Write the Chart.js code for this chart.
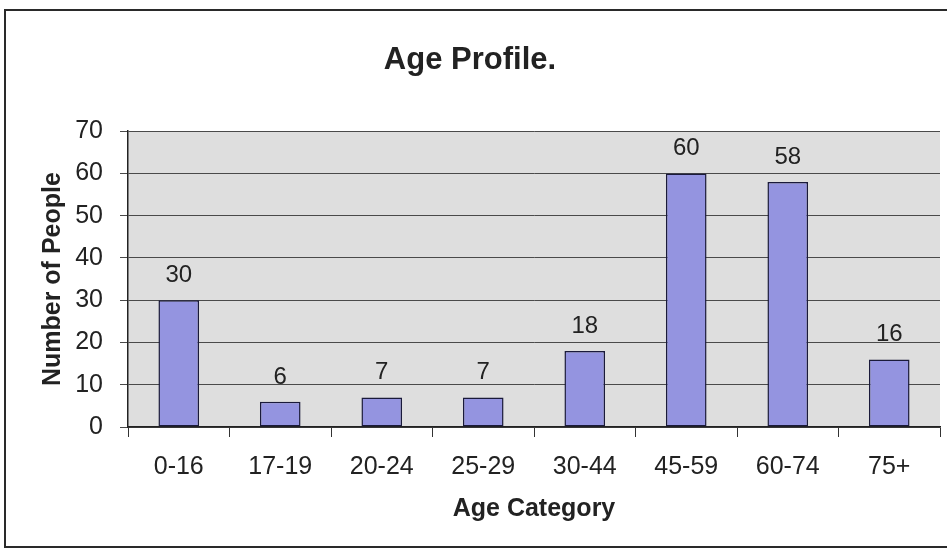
<!DOCTYPE html>
<html>
<head>
<meta charset="utf-8">
<script src="https://cdn.jsdelivr.net/npm/chart.js@4/dist/chart.umd.min.js"></script>
<style>
    html, body { margin: 0; padding: 0; background: #ffffff; }
    #wrap { position: relative; width: 947px; height: 550px; }
</style>
</head>
<body>
<div id="wrap"><canvas id="ageChart" width="947" height="550"></canvas></div>
<script>
// Age profile data
const categories = ['0-16', '17-19', '20-24', '25-29', '30-44', '45-59', '60-74', '75+'];
const peopleCounts = [30, 6, 7, 7, 18, 60, 58, 16];
const yTicks = [0, 10, 20, 30, 40, 50, 60, 70];

const FONT = "'Liberation Sans', Arial, sans-serif";

// Frame round the whole chart + grey plot area
const backgroundPlugin = {
    id: 'backgroundPlugin',
    beforeDraw(chart) {
        const ctx = chart.ctx;
        const area = chart.chartArea;
        ctx.save();
        ctx.fillStyle = '#dedede';
        ctx.fillRect(area.left, area.top, area.right - area.left, area.bottom - area.top);
        ctx.strokeStyle = '#2a2a2a';
        ctx.lineWidth = 2;
        ctx.strokeRect(5, 10, 960, 537);
        ctx.restore();
    }
};

// Value labels above the bars
const valueLabels = {
    id: 'valueLabels',
    afterDatasetsDraw(chart) {
        const ctx = chart.ctx;
        const meta = chart.getDatasetMeta(0);
        ctx.save();
        ctx.font = '24px ' + FONT;
        ctx.fillStyle = '#222222';
        ctx.textAlign = 'center';
        ctx.textBaseline = 'alphabetic';
        meta.data.forEach((bar, i) => {
            ctx.fillText(String(peopleCounts[i]), bar.x, bar.y - 18);
        });
        ctx.restore();
    }
};

const ctx = document.getElementById('ageChart').getContext('2d');
new Chart(ctx, {
    type: 'bar',
    data: {
        labels: categories,
        datasets: [{
            label: 'Number of People',
            data: peopleCounts,
            backgroundColor: '#9494e0',
            borderColor: '#1a1a3a',
            borderWidth: 1.5,
            borderSkipped: false,
            barPercentage: 0.4,
            categoryPercentage: 1.0
        }]
    },
    options: {
        responsive: false,
        animation: false,
        layout: { padding: { left: 0, right: 7, top: 0, bottom: 0 } },
        plugins: {
            legend: { display: false },
            tooltip: { enabled: false },
            title: {
                display: true,
                text: 'Age Profile.',
                color: '#222222',
                font: { family: FONT, size: 31, weight: 'bold' },
                padding: { top: 42, bottom: 52 }
            }
        },
        scales: {
            x: {
                afterFit(scale) { scale.height = 123; },
                grid: {
                    offset: true,
                    drawOnChartArea: false,
                    drawTicks: true,
                    tickLength: 10,
                    color: '#333333'
                },
                border: { color: '#222222', width: 1.5 },
                ticks: {
                    padding: 15,
                    color: '#222222',
                    font: { family: FONT, size: 25 }
                },
                title: {
                    display: true,
                    text: 'Age Category',
                    color: '#222222',
                    font: { family: FONT, size: 25, weight: 'bold' },
                    padding: { top: 0, bottom: 26 }
                }
            },
            y: {
                min: 0,
                max: 70,
                afterFit(scale) { scale.width = 128; },
                afterBuildTicks(scale) {
                    scale.ticks = yTicks.map(v => ({ value: v }));
                },
                grid: {
                    color: '#4a4a4a',
                    lineWidth: 1,
                    tickLength: 8
                },
                border: { color: '#222222', width: 1.5 },
                ticks: {
                    padding: 17,
                    color: '#222222',
                    font: { family: FONT, size: 25 }
                },
                title: {
                    display: true,
                    text: 'Number of People',
                    color: '#222222',
                    font: { family: FONT, size: 25, weight: 'bold' },
                    padding: { top: 38, bottom: 0 }
                }
            }
        }
    },
    plugins: [backgroundPlugin, valueLabels]
});
</script>
</body>
</html>
